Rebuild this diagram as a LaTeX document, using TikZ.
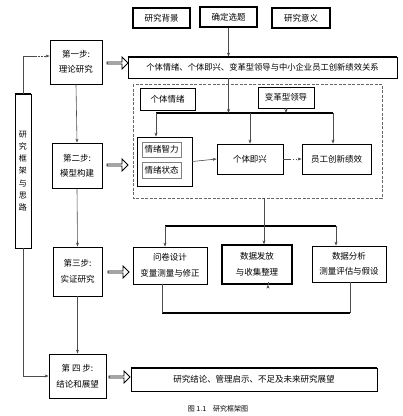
\documentclass[tikz,border=0pt]{standalone}
\usepackage{fontspec}
\setmainfont{Noto Sans CJK SC}
\usetikzlibrary{arrows.meta,shapes.arrows,calc}
\begin{document}
\begin{tikzpicture}[x=1pt,y=-1pt,
  box/.style={draw,line width=0.8pt,inner sep=0pt,align=center,font=\fontsize{8.5}{15.5}\selectfont},
  tbox/.style={box,line width=1.3pt},
  ibox/.style={draw=black!50,line width=0.6pt,inner sep=0pt,align=center,font=\fontsize{8.5}{12}\selectfont},
  arr/.style={draw=black!70,line width=0.6pt,-{Stealth[length=4pt,width=3pt]}},
  ln/.style={draw=black!70,line width=0.6pt},
  bar/.style={draw,line width=1.6pt},
  harrow/.style={single arrow,draw,line width=0.8pt,minimum height=21pt,minimum width=12pt,single arrow head extend=2pt,inner sep=0pt}]
\useasboundingbox (0,0) rectangle (403,416);
% top boxes
\node[tbox,minimum width=57pt,minimum height=20pt] (bg) at (161.5,18) {研究背景};
\node[tbox,minimum width=57pt,minimum height=20pt] (topic) at (228.5,17) {确定选题};
\node[tbox,minimum width=58pt,minimum height=20pt] (sig) at (301,18) {研究意义};
% relation box
\node[box,minimum width=269pt,minimum height=21pt,font=\fontsize{8.3}{10}\selectfont] (rel) at (262.5,67.5) {个体情绪、个体即兴、变革型领导与中小企业员工创新绩效关系};
\draw[bar] (rel.north west) -- (rel.north east);
\draw[bar] (rel.south west) -- (rel.south east);
% steps
\node[box,minimum width=52pt,minimum height=44pt] (s1) at (76,62) {第一步:\\理论研究};
\node[box,minimum width=50pt,minimum height=45pt] (s2) at (77,165.5) {第二步:\\模型构建};
\node[box,minimum width=49pt,minimum height=49pt] (s3) at (77.5,271.5) {第三步:\\实证研究};
\node[box,minimum width=57pt,minimum height=44pt] (s4) at (77.5,376) {第 四 步:\\结论和展望};
\draw[bar] (s1.south west) -- (s1.south east);
\draw[bar] (s2.south west) -- (s2.south east);
\draw[bar] (s3.south west) -- (s3.south east);
% frame
\node[box,minimum width=16pt,minimum height=154pt,font=\fontsize{8}{12.2}\selectfont] (frame) at (23,171) {研\\究\\框\\架\\与\\思\\路};
\draw[bar] (frame.north west) -- (frame.north east);
\draw[bar] (frame.south west) -- (frame.south east);
% hollow arrows
\node[harrow] (h1) at (117,63) {};
\node[harrow] (h2) at (117,165) {};
\node[harrow] (h3) at (118,272) {};
\node[harrow] (h4) at (119,377) {};
% dashed model box
\draw[draw=black!60,line width=0.5pt,dash pattern=on 3pt off 1.5pt] (133,84) rectangle (382,198);
\coordinate (dbot) at (264,198);
\node[box,minimum width=55pt,minimum height=22pt] (emo) at (167.5,99) {个体情绪};
\node[box,minimum width=56pt,minimum height=21pt] (tfl) at (286,97.5) {变革型领导};
\node[box,minimum width=55pt,minimum height=49pt] (emobox) at (164.5,161.5) {};
\draw[bar] (emobox.south west) -- (emobox.south east);
\node[ibox,minimum width=39pt,minimum height=15pt] (ei) at (161.5,149.5) {情绪智力};
\node[ibox,minimum width=39pt,minimum height=16pt] (es) at (161.5,170) {情绪状态};
\node[box,minimum width=66pt,minimum height=30pt] (imp) at (250,159) {个体即兴};
\node[box,minimum width=69pt,minimum height=30pt] (perf) at (336.5,159) {员工创新绩效};
\coordinate (barL) at (156,113);
\coordinate (barR) at (333,113);
\draw[bar] (barL) -- (barR);
% step 3 boxes
\node[box,minimum width=74pt,minimum height=37pt] (q) at (170,265.5) {问卷设计\\变量测量与修正};
\node[tbox,minimum width=70pt,minimum height=39pt] (d) at (257,264.5) {数据发放\\与收集整理};
\node[box,minimum width=74pt,minimum height=36pt] (a) at (349,264) {数据分析\\测量评估与假设};
\coordinate (b2L) at (165,226);
\coordinate (b2R) at (336,226);
\draw[bar] (b2L) -- (b2R);
\coordinate (b3L) at (162,313);
\coordinate (b3R) at (350,313);
\draw[bar] (b3L) -- (b3R);
% conclusion
\node[box,minimum width=246pt,minimum height=23pt] (concl) at (254,379.5) {研究结论、管理启示、不足及未来研究展望};
\draw[bar] (concl.north west) -- (concl.north east);
\draw[bar] (concl.south west) -- (concl.south east);
% caption
\node[font=\fontsize{7}{9}\selectfont] (cap) at (218,409) {图 1.1\quad 研究框架图};
% connectors
\draw[arr] (topic.south) -- (topic.south|-rel.north);
\draw[arr] (topic.south|-rel.south) -- (topic.south|-barL);
\draw[arr] (tfl.south) -- (tfl.south|-barL);
\draw[arr] (barL) -- (barL|-emobox.north);
\draw[arr] (imp.north|-barL) -- (imp.north);
\draw[arr] (barR) -- (barR|-perf.north);
\draw[arr] (emobox.east) -- (imp.west);
\draw[ln,line width=1pt] (imp.east) -- ++(7,0);
\draw[arr,dotted,line width=1pt] ($(imp.east)+(7,0)$) -- (perf.west);
\draw[arr] (s1.south) -- (s2.north);
\draw[arr] (s2.south) -- (s3.north);
\draw[arr] (s3.south) -- (s4.north);
\draw[ln] (frame.north) |- ($(s1.west)+(-15,-6)$);
\draw[arr,dash pattern=on 2pt off 1pt,line width=0.9pt] ($(s1.west)+(-18,-6)$) -- ($(s1.west)+(0,-6)$);
\draw[arr] (frame.south) |- (s4.west);
\draw[arr] (dbot) -- (dbot|-d.north);
\draw[arr] (b2L) -- (b2L|-q.north);
\draw[arr] (b2R) -- (b2R|-a.north);
\draw[ln] (b3L|-q.south) -- (b3L);
\draw[ln] (b3R|-a.south) -- (b3R);
\draw[arr] ($(d.south)+(11,0)$) -- ($(d.south)+(11,0)$|-concl.north);
\end{tikzpicture}
\end{document}
